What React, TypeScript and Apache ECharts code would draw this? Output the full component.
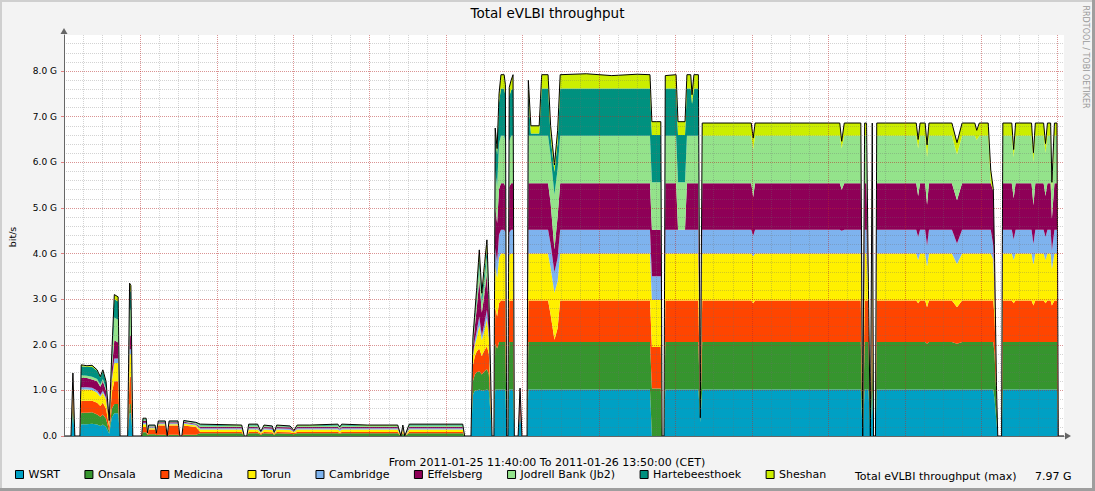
import React, { useEffect, useRef } from 'react';
import * as echarts from 'echarts';

const FONT = '"DejaVu Sans", sans-serif';

// minutes since Tue 2011-01-25 00:00 (CET)
const times = [
  700, 711, 714, 717, 725, 727, 736, 744, 752, 757,
  761, 766, 771, 775, 779, 785, 788, 800, 803, 805,
  808, 822, 824, 829, 831, 833, 843, 845, 848, 859,
  862, 865, 879, 882, 885, 888, 907, 914, 979, 983,
  987, 990, 1004, 1009, 1014, 1027, 1030, 1034, 1055, 1061,
  1066, 1086, 1130, 1133, 1136, 1176, 1224, 1229, 1232, 1235,
  1242, 1326, 1329, 1339, 1342, 1345, 1348, 1352, 1356, 1359,
  1364, 1367, 1372, 1375, 1377, 1380, 1383, 1386, 1391, 1393,
  1395, 1397, 1399, 1402, 1405, 1407, 1413, 1416, 1419, 1427,
  1429, 1433, 1446, 1450, 1460, 1464, 1470, 1475, 1479, 1520,
  1560, 1600, 1620, 1623, 1637, 1639, 1642, 1644, 1661, 1664,
  1675, 1678, 1684, 1686, 1689, 1696, 1699, 1702, 1779, 1782,
  1785, 1918, 1921, 1925, 1951, 1954, 1957, 1960, 1963, 1966,
  1969, 1971, 1974, 1976, 2038, 2041, 2044, 2052, 2055, 2058,
  2094, 2102, 2110, 2130, 2133, 2137, 2151, 2155, 2159, 2161,
  2164, 2166, 2172, 2174, 2188, 2191, 2194, 2219, 2222, 2225,
  2238, 2241, 2244, 2249, 2251, 2255, 2259, 2261, 2270,
];

// Gbit/s per station
const wsrt = [
  0, 0, 0.5, 0, 0, 0.26, 0.26, 0.27, 0.25, 0.22,
  0.25, 0.2, 0.05, 0.4, 0.5, 0.5, 0, 0, 0.5, 0.5,
  0, 0, 0, 0, 0, 0, 0, 0, 0, 0,
  0, 0, 0, 0, 0, 0, 0, 0, 0, 0,
  0, 0, 0, 0, 0, 0, 0, 0, 0, 0,
  0, 0, 0, 0, 0, 0, 0, 0, 0, 0,
  0, 0, 0, 0, 0.9, 1.0, 1.0, 1.02, 1.0, 1.0,
  1.02, 1.0, 0, 0, 1.02, 1.02, 1.02, 1.02, 1.02, 1.02,
  0, 0, 1.02, 1.02, 1.02, 0, 0, 0.5, 0, 0,
  1.02, 1.02, 1.02, 1.02, 1.02, 1.02, 1.02, 1.02, 1.02, 1.02,
  1.02, 1.02, 1.02, 0, 0, 0, 0, 1.02, 1.02, 1.02,
  1.02, 1.02, 1.02, 1.02, 1.02, 1.02, 0.3, 1.02, 1.02, 1.02,
  1.02, 1.02, 1.02, 1.02, 1.02, 0, 1.02, 1.02, 1.02, 0,
  1.02, 0, 0, 1.02, 1.02, 1.02, 1.02, 1.02, 1.02, 1.02,
  1.02, 1.02, 1.02, 1.02, 1.02, 1.02, 1.02, 1.02, 1.02, 0.8,
  0.3, 0, 0, 1.02, 1.02, 1.02, 1.02, 1.02, 1.02, 1.02,
  1.02, 1.02, 1.02, 1.02, 1.02, 1.02, 1.02, 0, 0,
];

const onsala = [
  0, 0, 0.25, 0, 0, 0.25, 0.25, 0.25, 0.22, 0.2,
  0.22, 0.18, 0.05, 0.2, 0.2, 0.2, 0, 0, 0.2, 0.2,
  0, 0, 0.08, 0.08, 0.02, 0.04, 0.04, 0.02, 0.03, 0.03,
  0, 0.03, 0.03, 0, 0, 0.03, 0.03, 0.06, 0.06, 0,
  0, 0.06, 0.06, 0.03, 0.06, 0.05, 0.03, 0.06, 0.05, 0.04,
  0.06, 0.06, 0.06, 0.05, 0.06, 0.06, 0.06, 0, 0.06, 0,
  0.06, 0.06, 0, 0, 0.3, 0.35, 0.4, 0.4, 0.35, 0.4,
  0.45, 0.35, 0, 0, 1.0, 0.9, 1.04, 1.04, 1.04, 1.04,
  0, 0, 1.04, 1.04, 1.04, 0, 0, 0, 0, 0,
  1.04, 1.04, 1.04, 1.04, 1.04, 1.04, 1.04, 1.04, 1.04, 1.04,
  1.04, 1.04, 1.04, 1.04, 1.04, 0, 0, 1.04, 1.04, 1.04,
  1.04, 1.04, 1.04, 1.04, 1.04, 1.04, 0.1, 1.04, 1.04, 1.04,
  1.04, 1.04, 1.04, 1.04, 1.04, 0, 1.04, 1.04, 1.04, 0,
  1.04, 0, 0, 1.04, 1.04, 1.04, 1.04, 1.04, 1.0, 1.04,
  1.04, 1.0, 1.04, 1.04, 1.04, 1.04, 1.04, 1.04, 1.04, 1.0,
  0.5, 0, 0, 1.04, 1.04, 1.04, 1.04, 1.04, 1.04, 1.04,
  1.04, 1.04, 1.04, 1.04, 1.04, 1.04, 1.04, 0, 0,
];

const medicina = [
  0, 0, 0.25, 0, 0, 0.26, 0.26, 0.25, 0.26, 0.24,
  0.26, 0.22, 0.1, 0.35, 0.5, 0.5, 0, 0, 0.6, 0.6,
  0, 0, 0.12, 0.12, 0.02, 0.1, 0.1, 0.03, 0.2, 0.2,
  0, 0.2, 0.2, 0, 0, 0.2, 0.17, 0.03, 0.03, 0,
  0, 0.03, 0.03, 0.02, 0.03, 0.03, 0.01, 0.03, 0.03, 0.02,
  0.03, 0.03, 0.03, 0.02, 0.03, 0.03, 0.03, 0, 0.03, 0,
  0.03, 0.03, 0, 0, 0.35, 0.4, 0.45, 0.5, 0.4, 0.45,
  0.5, 0.45, 0, 0, 0.8, 0.7, 0.85, 0.91, 0.91, 0.9,
  0, 0, 0.9, 0.91, 0.91, 0, 0, 0.25, 0, 0,
  0.91, 0.91, 0.91, 0.91, 0.91, 0.6, 0.05, 0.3, 0.91, 0.91,
  0.91, 0.91, 0.91, 0.91, 0.91, 0, 0, 0.91, 0.91, 0.91,
  0.91, 0.91, 0.91, 0.91, 0.91, 0.91, 0, 0.91, 0.91, 0.85,
  0.91, 0.91, 0.91, 0.91, 0.91, 0, 0.91, 0.91, 0.91, 0,
  0.91, 0, 0, 0.91, 0.91, 0.85, 0.91, 0.91, 0.8, 0.91,
  0.91, 0.8, 0.91, 0.91, 0.91, 0.91, 0.91, 0.91, 0.91, 0.8,
  0.3, 0, 0, 0.91, 0.91, 0.85, 0.91, 0.91, 0.8, 0.91,
  0.91, 0.85, 0.91, 0.91, 0.8, 0.91, 0.91, 0, 0,
];

const torun = [
  0, 0, 0.2, 0, 0, 0.25, 0.25, 0.24, 0.22, 0.2,
  0.22, 0.2, 0.05, 0.25, 0.4, 0.4, 0, 0, 0.5, 0.5,
  0, 0, 0.06, 0.06, 0.01, 0.03, 0.03, 0.01, 0.03, 0.03,
  0, 0.03, 0.03, 0, 0, 0.04, 0.03, 0.05, 0.05, 0,
  0, 0.05, 0.05, 0.02, 0.05, 0.05, 0.02, 0.05, 0.05, 0.03,
  0.05, 0.05, 0.05, 0.04, 0.05, 0.05, 0.05, 0, 0.05, 0,
  0.05, 0.05, 0, 0, 0.2, 0.25, 0.3, 0.5, 0.35, 0.4,
  0.6, 0.35, 0, 0, 0.9, 0.85, 1.0, 1.03, 1.03, 1.0,
  0, 0, 1.0, 1.03, 1.03, 0, 0, 0, 0, 0,
  1.03, 1.03, 1.03, 1.03, 1.03, 1.03, 1.03, 1.03, 1.03, 1.03,
  1.03, 1.03, 1.03, 1.03, 1.03, 0, 0, 1.03, 1.03, 1.03,
  1.03, 1.03, 1.03, 1.03, 1.03, 1.03, 0, 1.03, 1.03, 1.03,
  1.03, 1.03, 1.03, 1.03, 1.03, 0, 1.03, 1.03, 0.25, 0,
  1.03, 0, 0, 1.03, 1.03, 0.95, 1.03, 1.03, 0.9, 1.03,
  1.03, 0.95, 1.03, 1.03, 1.03, 1.03, 1.03, 1.03, 0.9, 0.5,
  0, 0, 0, 1.03, 1.03, 0.95, 1.03, 1.03, 0.9, 1.03,
  1.03, 0.95, 1.03, 1.03, 0.8, 1.03, 1.03, 0, 0,
];

const cambridge = [
  0, 0, 0.03, 0, 0, 0.05, 0.05, 0.05, 0.05, 0.04,
  0.05, 0.04, 0.01, 0.05, 0.1, 0.1, 0, 0, 0.1, 0.1,
  0, 0, 0.03, 0.03, 0.01, 0.02, 0.02, 0, 0.02, 0.02,
  0, 0.02, 0.02, 0, 0, 0.02, 0.02, 0.03, 0.03, 0,
  0, 0.03, 0.03, 0.01, 0.03, 0.03, 0.01, 0.03, 0.03, 0.01,
  0.03, 0.03, 0.03, 0.03, 0.03, 0.03, 0.03, 0, 0.03, 0,
  0.03, 0.03, 0, 0, 0.05, 0.1, 0.15, 0.2, 0.1, 0.15,
  0.2, 0.1, 0, 0, 0.4, 0.35, 0.5, 0.52, 0.52, 0.5,
  0, 0, 0.5, 0.52, 0.52, 0, 0, 0.05, 0, 0,
  0.52, 0.52, 0.52, 0.52, 0.52, 0.52, 0.45, 0.52, 0.52, 0.52,
  0.52, 0.52, 0.52, 0.52, 0.52, 0, 0, 0.52, 0.52, 0.52,
  0.52, 0.52, 0.52, 0.52, 0.52, 0.52, 0, 0.52, 0.52, 0.45,
  0.52, 0.52, 0.5, 0.52, 0.52, 0, 0.52, 0.52, 0, 0,
  0.52, 0, 0, 0.52, 0.52, 0.5, 0.52, 0.52, 0.45, 0.52,
  0.52, 0.45, 0.52, 0.52, 0.52, 0.52, 0.52, 0.52, 0.3, 0.2,
  0, 0, 0, 0.52, 0.52, 0.45, 0.52, 0.52, 0.45, 0.52,
  0.52, 0.5, 0.52, 0.52, 0.4, 0.52, 0.52, 0, 0,
];

const effelsberg = [
  0, 0, 0.1, 0, 0, 0.2, 0.2, 0.18, 0.2, 0.18,
  0.2, 0.15, 0.04, 0.2, 0.4, 0.35, 0, 0, 0.3, 0.3,
  0, 0, 0.04, 0.04, 0.01, 0.02, 0.02, 0, 0.02, 0.02,
  0, 0.02, 0.02, 0, 0, 0.02, 0.02, 0.03, 0.03, 0,
  0, 0.03, 0.03, 0.01, 0.03, 0.03, 0.01, 0.03, 0.03, 0.01,
  0.03, 0.03, 0.03, 0.02, 0.03, 0.03, 0.03, 0, 0.03, 0,
  0.03, 0.03, 0, 0, 0.15, 0.3, 0.5, 0.8, 0.5, 0.6,
  0.8, 0.5, 0, 0, 0.9, 0.85, 1.0, 1.02, 1.02, 1.0,
  0, 0, 1.0, 1.02, 1.02, 0, 0, 0.25, 0, 0,
  1.02, 1.02, 1.02, 1.02, 1.02, 0.9, 0.5, 0.9, 1.02, 1.02,
  1.02, 1.02, 1.02, 1.02, 1.02, 0, 0, 1.02, 1.02, 0,
  0, 1.02, 1.02, 1.02, 1.02, 1.02, 0, 1.02, 1.02, 0.85,
  1.02, 1.02, 0.9, 1.02, 1.02, 0, 1.02, 1.02, 0, 0,
  1.02, 0, 0, 1.02, 1.02, 0.9, 1.02, 1.02, 0.9, 1.02,
  1.02, 0.95, 1.02, 1.02, 1.02, 1.02, 1.02, 1.02, 1.2, 0.6,
  0, 0, 0, 1.02, 1.02, 0.9, 1.02, 1.02, 0.85, 1.02,
  1.02, 0.9, 1.02, 1.02, 0.7, 1.02, 1.02, 0, 0,
];

const jodrell = [
  0, 0, 0.05, 0, 0, 0.06, 0.05, 0.06, 0.05, 0.05,
  0.05, 0.04, 0.01, 0.15, 0.5, 0.5, 0, 0, 0.6, 0.55,
  0, 0, 0.03, 0.03, 0, 0.02, 0.02, 0, 0.02, 0.02,
  0, 0.02, 0.02, 0, 0, 0.02, 0.02, 0.03, 0.02, 0,
  0, 0.03, 0.03, 0.01, 0.02, 0.02, 0, 0.02, 0.02, 0.01,
  0.02, 0.02, 0.03, 0.02, 0.03, 0.02, 0.02, 0, 0.02, 0,
  0.03, 0.03, 0, 0, 0.1, 0.15, 0.2, 0.3, 0.2, 0.25,
  0.35, 0.2, 0, 0, 0.8, 0.8, 1.0, 1.04, 1.04, 1.0,
  0, 0, 1.0, 1.04, 1.04, 0, 0, 0, 0, 0,
  1.04, 1.04, 1.04, 1.04, 1.04, 1.04, 1.2, 1.04, 1.04, 1.04,
  1.04, 1.04, 1.04, 1.04, 1.04, 0, 0, 1.04, 1.04, 1.04,
  1.04, 1.04, 1.04, 1.04, 1.04, 1.04, 0, 1.04, 1.04, 1.04,
  1.04, 1.04, 0.9, 1.04, 1.04, 0, 1.04, 1.04, 0, 0,
  1.04, 0, 0, 1.04, 1.04, 1.04, 1.04, 1.04, 1.04, 1.04,
  1.04, 1.0, 1.04, 1.04, 0.95, 1.04, 1.04, 0, 0, 0,
  0, 0, 0, 1.04, 1.04, 0.9, 1.04, 1.04, 0.95, 1.04,
  1.04, 0.95, 1.04, 1.04, 0.6, 1.04, 1.04, 0, 0,
];

const hartebeesthoek = [
  0, 0, 0, 0, 0, 0.2, 0.2, 0.22, 0.18, 0.15,
  0.18, 0.15, 0.03, 0.15, 0.4, 0.4, 0, 0, 0.4, 0.4,
  0, 0, 0.02, 0.02, 0, 0.01, 0.01, 0, 0.01, 0.01,
  0, 0.01, 0.01, 0, 0, 0.01, 0.01, 0.02, 0.01, 0,
  0, 0.02, 0.02, 0, 0.01, 0.01, 0, 0.01, 0.01, 0,
  0.01, 0.01, 0.02, 0.01, 0.02, 0.01, 0.01, 0, 0.01, 0,
  0.02, 0.02, 0, 0, 0.05, 0.1, 0.15, 0.2, 0.15, 0.2,
  0.2, 0.1, 0, 0, 0.8, 0.7, 0.9, 1.04, 1.04, 1.0,
  0, 0, 0.98, 1.0, 1.04, 0, 0, 0, 0, 0,
  0.92, 0.05, 0.05, 1.04, 1.04, 0.4, 0.5, 0.6, 1.04, 1.04,
  1.04, 1.04, 1.04, 1.04, 1.04, 0, 0, 1.04, 1.04, 1.04,
  1.04, 1.04, 1.04, 0.7, 1.04, 1.04, 0, 0, 0, 0,
  0, 0, 0, 0, 0, 0, 0, 0, 0, 0,
  0, 0, 0, 0, 0, 0, 0, 0, 0, 0,
  0, 0, 0, 0, 0, 0, 0, 0, 0, 0,
  0, 0, 0, 0, 0, 0, 0, 0, 0, 0,
  0, 0, 0, 0, 0, 0, 0, 0, 0,
];

const sheshan = [
  0, 0, 0, 0, 0, 0.03, 0.02, 0.03, 0.02, 0.02,
  0.02, 0.02, 0, 0.05, 0.1, 0.1, 0, 0, 0.15, 0.15,
  0, 0, 0.01, 0.01, 0, 0, 0, 0, 0, 0,
  0, 0, 0, 0, 0, 0, 0, 0.01, 0.01, 0,
  0, 0.01, 0.01, 0, 0.01, 0, 0, 0.01, 0, 0,
  0.01, 0.01, 0.01, 0.01, 0.01, 0.01, 0.01, 0, 0.01, 0,
  0.01, 0.01, 0, 0, 0.05, 0.05, 0.1, 0.16, 0.08, 0.15,
  0.18, 0.05, 0, 0, 0.13, 0.13, 0.19, 0.3, 0.3, 0.24,
  0, 0, 0.2, 0.22, 0.3, 0, 0, 0, 0, 0,
  0.3, 0.17, 0.17, 0.3, 0.3, 0.25, 0.15, 0.25, 0.3, 0.32,
  0.28, 0.31, 0.3, 0.29, 0.29, 0, 0, 0.28, 0.3, 0.29,
  0.29, 0.3, 0.3, 0.2, 0.3, 0.3, 0, 0.28, 0.28, 0.25,
  0.28, 0.28, 0.16, 0.28, 0.28, 0, 0.28, 0.28, 0, 0,
  0.28, 0, 0, 0.28, 0.28, 0.2, 0.28, 0.28, 0.27, 0.28,
  0.28, 0.26, 0.28, 0.28, 0.21, 0.28, 0.28, 0.29, 0.05, 0,
  0, 0, 0, 0.28, 0.28, 0.17, 0.28, 0.28, 0.2, 0.28,
  0.28, 0.2, 0.28, 0.28, 0.2, 0.28, 0.28, 0, 0,
];

const stationNames = [
  'WSRT', 'Onsala', 'Medicina', 'Torun', 'Cambridge', 'Effelsberg',
  'Jodrell Bank (Jb2)', 'Hartebeesthoek', 'Sheshan',
];
const stationValues = [wsrt, onsala, medicina, torun, cambridge, effelsberg, jodrell, hartebeesthoek, sheshan];
const stationColors = [
  '#00A0C4', '#36952E', '#FF4500', '#FFF000', '#7EB3EE', '#8E0057',
  '#94E38B', '#00917F', '#CCEE00',
];

const xLabelTimes = [720, 1080, 1440, 1800, 2160];
const xLabelTexts = ['Tue 12:00', 'Tue 18:00', 'Wed 00:00', 'Wed 06:00', 'Wed 12:00'];
const yLabelTexts = ['0.0', '1.0 G', '2.0 G', '3.0 G', '4.0 G', '5.0 G', '6.0 G', '7.0 G', '8.0 G'];

const X_MIN = 700;
const X_MAX = 2270;
const Y_MAX = 8.79;
const DAY0 = Date.UTC(2011, 0, 25);
const toMs = (m: number) => DAY0 + m * 60000;

const MAJOR = 'rgba(235,0,0,0.30)';
const MINOR = 'rgba(110,110,110,0.30)';

function buildOption() {
  const series = stationNames.map((name, i) => ({
    name,
    type: 'line',
    stack: 'total',
    xAxisIndex: 3,
    yAxisIndex: 0,
    symbol: 'none',
    showSymbol: false,
    z: 2,
    itemStyle: { color: stationColors[i] },
    areaStyle: { color: stationColors[i], opacity: 1 },
    lineStyle: i === stationNames.length - 1 ? { color: '#000', width: 1 } : { width: 0 },
    emphasis: { disabled: true },
    data: times.map((t, j) => [toMs(t), stationValues[i][j]]),
  }));

  return {
    animation: false,
    backgroundColor: '#F3F3F3',
    textStyle: { fontFamily: FONT },
    title: {
      text: 'Total eVLBI throughput',
      left: 'center',
      top: 6,
      padding: 0,
      textStyle: { fontSize: 13.5, fontWeight: 'normal', color: '#000', fontFamily: FONT },
    },
    grid: {
      left: 64, top: 35, width: 1000, height: 401,
      show: true, backgroundColor: '#FFFFFF', borderWidth: 0,
    },
    legend: {
      data: stationNames,
      left: 15,
      top: 469,
      padding: 0,
      itemGap: 24.5,
      itemWidth: 8,
      itemHeight: 8,
      icon: 'rect',
      selectedMode: false,
      itemStyle: { borderColor: '#000', borderWidth: 1 },
      textStyle: { fontSize: 11, color: '#000', fontFamily: FONT },
    },
    xAxis: [
      {
        type: 'value', position: 'bottom', min: X_MIN, max: X_MAX, interval: 360, z: 6,
        axisLine: {
          show: true, onZero: false,
          lineStyle: { color: '#666', width: 1 },
          symbol: ['none', 'triangle'], symbolSize: [7, 6], symbolOffset: [0, 4],
        },
        axisTick: { show: false },
        splitLine: { show: false },
        axisLabel: {
          show: true, fontSize: 9, color: '#000', margin: 5, fontFamily: FONT,
          showMinLabel: false, showMaxLabel: false,
          formatter: (v: number) => {
            const k = xLabelTimes.indexOf(Math.round(v));
            return k >= 0 ? xLabelTexts[k] : '';
          },
        },
      },
      {
        type: 'value', position: 'bottom', min: X_MIN, max: X_MAX, interval: 120, z: 5,
        axisLine: { show: false },
        axisLabel: { show: false },
        axisTick: { show: false },
        splitLine: {
          show: true, showMinLine: false, showMaxLine: false,
          lineStyle: { color: MAJOR, type: [1, 1], width: 1 },
        },
      },
      {
        type: 'value', position: 'bottom', min: X_MIN, max: X_MAX, interval: 30, z: 4,
        axisLine: { show: false },
        axisLabel: { show: false },
        axisTick: { show: false },
        splitLine: {
          show: true, showMinLine: false, showMaxLine: false,
          lineStyle: { color: MINOR, type: [1, 1], width: 1 },
        },
      },
      {
        type: 'time', position: 'bottom', min: toMs(X_MIN), max: toMs(X_MAX), show: false,
        splitLine: { show: false },
      },
    ],
    yAxis: [
      {
        type: 'value', position: 'left', min: 0, max: Y_MAX, interval: 1, z: 6,
        axisLine: {
          show: true, onZero: false,
          lineStyle: { color: '#666', width: 1 },
          symbol: ['none', 'triangle'], symbolSize: [7, 6], symbolOffset: [0, 4],
        },
        axisTick: { show: true, length: 3, lineStyle: { color: '#E08080' } },
        splitLine: {
          show: true, showMinLine: false, showMaxLine: false,
          lineStyle: { color: MAJOR, type: [1, 1], width: 1 },
        },
        axisLabel: {
          show: true, fontSize: 9, color: '#000', margin: 7, fontFamily: FONT,
          showMaxLabel: false,
          formatter: (v: number) => {
            const k = Math.round(v);
            return Math.abs(v - k) < 1e-6 && k < yLabelTexts.length ? yLabelTexts[k] : '';
          },
        },
      },
      {
        type: 'value', position: 'left', min: 0, max: Y_MAX, interval: 0.2, z: 4,
        axisLine: { show: false },
        axisLabel: { show: false },
        axisTick: { show: false },
        splitLine: {
          show: true, showMinLine: false, showMaxLine: false,
          lineStyle: { color: MINOR, type: [1, 1], width: 1 },
        },
      },
    ],
    series,
    graphic: [
      { type: 'rect', left: 0, top: 0, shape: { width: 1095, height: 2 }, style: { fill: '#CFCFCF' }, silent: true },
      { type: 'rect', left: 0, top: 0, shape: { width: 2, height: 491 }, style: { fill: '#CFCFCF' }, silent: true },
      { type: 'rect', left: 1092, top: 0, shape: { width: 3, height: 491 }, style: { fill: '#9E9E9E' }, silent: true },
      { type: 'rect', left: 0, top: 488, shape: { width: 1095, height: 3 }, style: { fill: '#9E9E9E' }, silent: true },
      {
        type: 'text', x: 12, y: 237, rotation: Math.PI / 2, silent: true,
        style: { text: 'bit/s', fontSize: 9.5, fill: '#000', fontFamily: FONT, align: 'center', verticalAlign: 'middle' },
      },
      {
        type: 'text', x: 1085, y: 57, rotation: -Math.PI / 2, silent: true,
        style: { text: 'RRDTOOL / TOBI OETIKER', fontSize: 8, fill: '#9A9A9A', fontFamily: FONT, align: 'center', verticalAlign: 'middle' },
      },
      {
        type: 'text', x: 547, y: 462, silent: true,
        style: { text: 'From 2011-01-25 11:40:00 To 2011-01-26 13:50:00 (CET)', fontSize: 11, fill: '#000', fontFamily: FONT, align: 'center', verticalAlign: 'middle' },
      },
      {
        type: 'text', x: 855, y: 476, silent: true,
        style: { text: 'Total eVLBI throughput (max)', fontSize: 11, fill: '#000', fontFamily: FONT, align: 'left', verticalAlign: 'middle' },
      },
      {
        type: 'text', x: 1035, y: 476, silent: true,
        style: { text: '7.97 G', fontSize: 11, fill: '#000', fontFamily: FONT, align: 'left', verticalAlign: 'middle' },
      },
    ],
  };
}

export default function App() {
  const ref = useRef<HTMLDivElement>(null);
  useEffect(() => {
    document.body.style.margin = '0';
    const chart = echarts.init(ref.current as HTMLDivElement, null, { renderer: 'svg' });
    chart.setOption(buildOption() as any);
    return () => chart.dispose();
  }, []);
  return (
    <div
      ref={ref}
      style={{ position: 'absolute', left: 0, top: 0, width: 1095, height: 491 }}
    />
  );
}
